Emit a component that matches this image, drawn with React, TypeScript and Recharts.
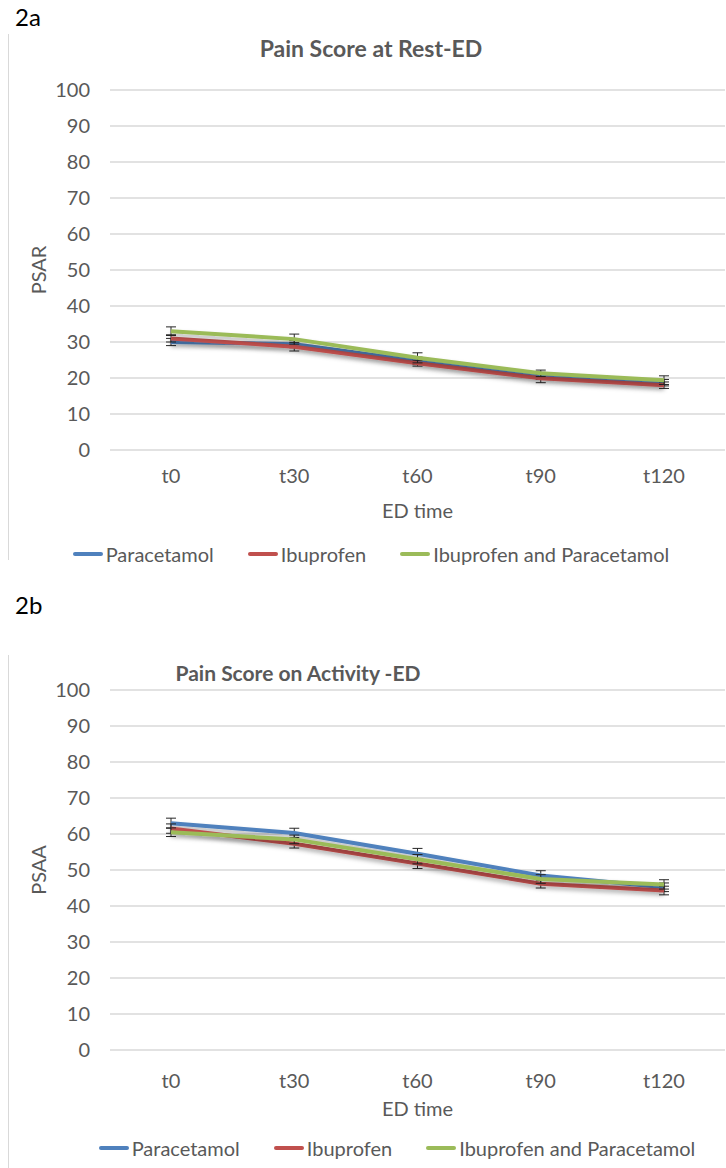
import React from "react";
import {
  LineChart,
  Line,
  XAxis,
  YAxis,
  CartesianGrid,
  Legend,
  ErrorBar,
} from "recharts";

const TIMES = ["t0", "t30", "t60", "t90", "t120"];
const Y_TICKS = [0, 10, 20, 30, 40, 50, 60, 70, 80, 90, 100];

// 2a – pain score at rest (PSAR)
const REST_PARA = [30, 29.4, 24.8, 20.6, 18.7];
const REST_IBU = [31, 28.7, 24.1, 19.9, 18];
const REST_BOTH = [33, 30.8, 25.6, 21.3, 19.4];
const REST_PARA_ERR = [1.0, 1.0, 1.0, 1.0, 0.9];
const REST_IBU_ERR = [1.0, 1.2, 0.8, 1.2, 0.9];
const REST_BOTH_ERR = [1.2, 1.4, 1.4, 0.9, 1.2];

// 2b – pain score on activity (PSAA)
const ACT_PARA = [63, 60.3, 54.5, 48.5, 45.2];
const ACT_IBU = [61.5, 57.3, 51.8, 46.2, 44.3];
const ACT_BOTH = [60.5, 58.5, 53, 47.5, 46];
const ACT_PARA_ERR = [1.4, 1.3, 1.5, 1.3, 1.2];
const ACT_IBU_ERR = [1.3, 1.2, 1.4, 1.2, 1.2];
const ACT_BOTH_ERR = [1.2, 1.2, 1.3, 1.2, 1.3];

const SERIES = [
  { key: "para", name: "Paracetamol", color: "#4F81BD" },
  { key: "ibu", name: "Ibuprofen", color: "#C0504D" },
  { key: "both", name: "Ibuprofen and Paracetamol", color: "#9BBB59" },
];

const FONT = "Lato, 'Open Sans', sans-serif";
const GREY = "#595959";

function buildRows(
  para: number[],
  ibu: number[],
  both: number[],
  paraErr: number[],
  ibuErr: number[],
  bothErr: number[]
) {
  return TIMES.map((t, i) => ({
    time: t,
    para: para[i],
    ibu: ibu[i],
    both: both[i],
    paraErr: paraErr[i],
    ibuErr: ibuErr[i],
    bothErr: bothErr[i],
  }));
}

const restRows = buildRows(REST_PARA, REST_IBU, REST_BOTH, REST_PARA_ERR, REST_IBU_ERR, REST_BOTH_ERR);
const actRows = buildRows(ACT_PARA, ACT_IBU, ACT_BOTH, ACT_PARA_ERR, ACT_IBU_ERR, ACT_BOTH_ERR);

interface PanelProps {
  id: string;
  top: number;
  height: number;
  tag: string;
  tagTop: number;
  borderTop: number;
  title: string;
  titleX: number;
  titleTop: number;
  titleSize: number;
  yLabel: string;
  rows: typeof restRows;
  legendTop: number;
  legendShift: number;
  legendSize: number;
  tickGap: number;
  xLabelGap: number;
}

const Panel: React.FC<PanelProps> = (p) => {
  const YLabel = (props: any) => {
    const vb = props.viewBox;
    const cx = vb.x + 28;
    const cy = vb.y + vb.height / 2;
    return (
      <text
        x={cx}
        y={cy}
        transform={`rotate(-90, ${cx}, ${cy})`}
        textAnchor="middle"
        dominantBaseline="central"
        fill={GREY}
        fontSize={20}
        fontFamily={FONT}
      >
        {p.yLabel}
      </text>
    );
  };

  const XLabel = (props: any) => {
    const vb = props.viewBox;
    return (
      <text
        x={vb.x + vb.width / 2}
        y={vb.y + p.xLabelGap}
        textAnchor="middle"
        dominantBaseline="central"
        fill={GREY}
        fontSize={20}
        fontFamily={FONT}
      >
        ED time
      </text>
    );
  };

  const renderLegend = (props: any) => {
    const items = [...(props.payload || [])].sort(
      (a: any, b: any) =>
        SERIES.findIndex((s) => s.name === a.value) - SERIES.findIndex((s) => s.name === b.value)
    );
    return (
      <div
        style={{
          display: "flex",
          justifyContent: "center",
          gap: 34,
          fontFamily: FONT,
          fontSize: p.legendSize,
          color: GREY,
          transform: `translateX(${p.legendShift}px)`,
        }}
      >
        {items.map((e: any) => (
          <div key={e.value} style={{ display: "flex", alignItems: "center" }}>
            <span
              style={{
                display: "inline-block",
                width: 30,
                height: 4,
                background: e.color,
                marginRight: 3,
                borderRadius: 2,
              }}
            />
            <span>{e.value}</span>
          </div>
        ))}
      </div>
    );
  };

  return (
    <div style={{ position: "absolute", left: 0, top: p.top, width: 726, height: p.height }}>
      <div
        style={{
          position: "absolute",
          left: 15,
          top: p.tagTop,
          fontFamily: FONT,
          fontSize: 24,
          color: "#000",
        }}
      >
        {p.tag}
      </div>
      <div
        style={{
          position: "absolute",
          left: 8,
          top: p.borderTop,
          width: 1,
          bottom: 0,
          background: "#d9d9d9",
        }}
      />
      <div
        style={{
          position: "absolute",
          left: p.titleX,
          top: p.titleTop,
          transform: "translateX(-50%)",
          whiteSpace: "nowrap",
          fontFamily: FONT,
          fontWeight: 700,
          fontSize: p.titleSize,
          color: GREY,
        }}
      >
        {p.title}
      </div>
      <div style={{ position: "absolute", left: 0, top: 0 }}>
        <LineChart
          width={726}
          height={p.height}
          data={p.rows}
          margin={{ top: 90, right: 1, left: 10, bottom: p.height - 90 - 360 - 70 }}
        >
          <defs>
            <filter id={`${p.id}-shadow`} x="-5%" y="-50%" width="110%" height="200%">
              <feDropShadow dx="0" dy="3" stdDeviation="2" floodColor="#000" floodOpacity="0.3" />
            </filter>
          </defs>
          <CartesianGrid vertical={false} stroke="#d9d9d9" strokeWidth={1.5} />
          <XAxis
            dataKey="time"
            axisLine={false}
            tickLine={false}
            tickSize={0}
            tickMargin={p.tickGap}
            height={70}
            padding={{ left: 61, right: 61 }}
            tick={{ fill: GREY, fontSize: 20, fontFamily: FONT }}
            label={<XLabel />}
          />
          <YAxis
            domain={[0, 100]}
            ticks={Y_TICKS}
            interval={0}
            axisLine={false}
            tickLine={false}
            tickSize={0}
            tickMargin={20}
            width={100}
            tick={{ fill: GREY, fontSize: 20, fontFamily: FONT }}
            label={<YLabel />}
          />
          {SERIES.map((s) => (
            <Line
              key={s.key}
              type="linear"
              dataKey={s.key}
              name={s.name}
              stroke={s.color}
              strokeWidth={4}
              dot={false}
              activeDot={false}
              filter={`url(#${p.id}-shadow)`}
              isAnimationActive={false}
            >
              <ErrorBar
                dataKey={`${s.key}Err`}
                width={5}
                stroke="#262626"
                strokeWidth={1}
                direction="y"
                isAnimationActive={false}
              />
            </Line>
          ))}
          <Legend
            layout="horizontal"
            align="center"
            verticalAlign="middle"
            content={renderLegend}
            wrapperStyle={{ top: p.legendTop, left: 0, width: 726 }}
          />
        </LineChart>
      </div>
    </div>
  );
};

export default function App() {
  return (
    <div
      style={{
        position: "absolute",
        left: 0,
        top: 0,
        width: 726,
        height: 1168,
        background: "#fff",
        overflow: "hidden",
      }}
    >
      <Panel
        id="rest"
        top={0}
        height={560}
        tag="2a"
        tagTop={2}
        borderTop={34}
        title="Pain Score at Rest-ED"
        titleX={371}
        titleTop={34}
        titleSize={23}
        yLabel="PSAR"
        rows={restRows}
        legendTop={542}
        legendShift={8}
        legendSize={20}
        tickGap={19}
        xLabelGap={60}
      />
      <Panel
        id="act"
        top={600}
        height={568}
        tag="2b"
        tagTop={-10}
        borderTop={55}
        title="Pain Score on Activity -ED"
        titleX={298}
        titleTop={60}
        titleSize={21}
        yLabel="PSAA"
        rows={actRows}
        legendTop={536}
        legendShift={34}
        legendSize={20}
        tickGap={24}
        xLabelGap={58}
      />
    </div>
  );
}
